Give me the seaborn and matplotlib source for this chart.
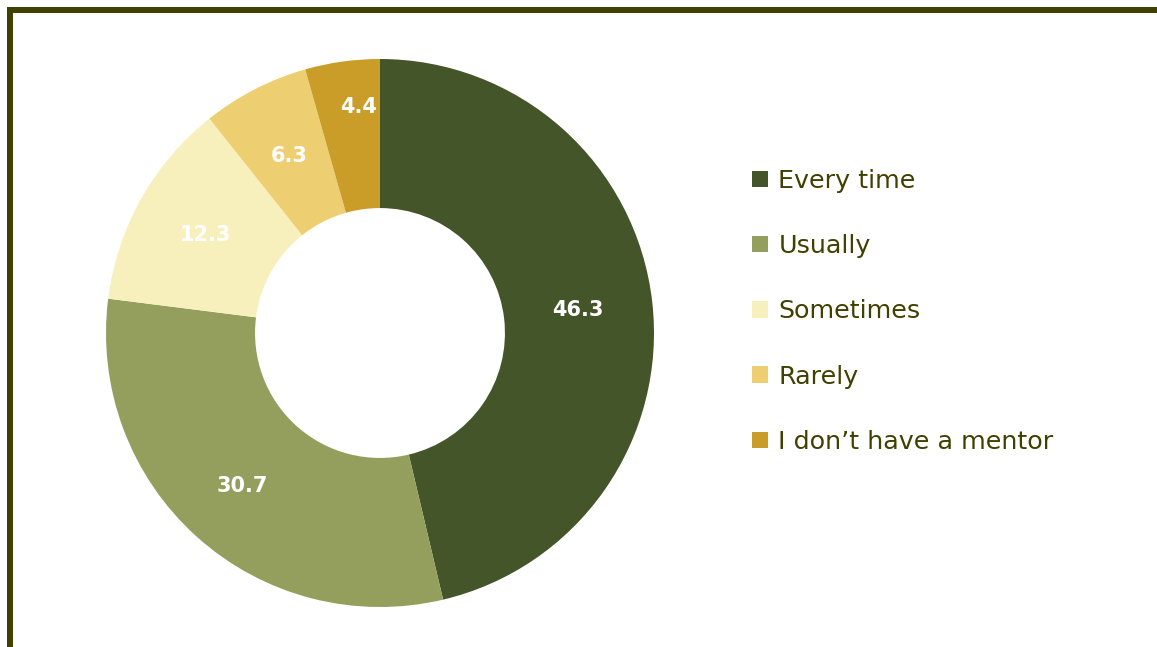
import matplotlib
matplotlib.use("Agg")
import matplotlib.pyplot as plt
from matplotlib.patches import Patch, Rectangle
import numpy as np
import seaborn as sns

# Share of respondents (%) by how often they meet their mentor
categories = ["Every time", "Usually", "Sometimes", "Rarely", "I don\u2019t have a mentor"]
shares = [46.3, 30.7, 12.3, 6.3, 4.4]
slice_colors = ["#45552a", "#949f5e", "#f7f0bd", "#edcf72", "#c99d27"]
# value label placement: radius (fraction of outer radius) and angular nudge (deg)
label_radius = [0.728, 0.75, 0.73, 0.728, 0.83]
label_nudge = [0, 0, 0, 0, -2.4]

sns.set_theme(style="white")
plt.rcParams["font.family"] = ["DejaVu Sans"]

W, H, DPI = 1157, 647, 100
fig = plt.figure(figsize=(W / DPI, H / DPI), dpi=DPI)
fig.patch.set_facecolor("white")

palette = sns.color_palette(slice_colors)

# donut centred at (380, 333) px, outer radius 274 px
cx, cy, R, pad = 380, 333, 274, 280
ax = fig.add_axes([(cx - pad) / W, (H - cy - pad) / H, 2 * pad / W, 2 * pad / H])
wedges, _ = ax.pie(
    shares,
    colors=palette,
    startangle=90,
    counterclock=False,
    radius=1.0,
    wedgeprops=dict(width=0.544, edgecolor="none"),
)
for w, v, r, d in zip(wedges, shares, label_radius, label_nudge):
    ang = np.deg2rad((w.theta1 + w.theta2) / 2 + d)
    ax.text(r * np.cos(ang), r * np.sin(ang), f"{v}",
            ha="center", va="center", color="white",
            fontweight="bold", fontsize=15)
ax.set_xlim(-pad / R, pad / R)
ax.set_ylim(-pad / R, pad / R)
ax.set_aspect("equal")
ax.axis("off")

# legend on the right
handles = [Patch(facecolor=c, edgecolor="none") for c in palette]
leg = fig.legend(
    handles, categories,
    loc="upper left",
    bbox_to_anchor=(752 / W, (H - 169) / H),
    frameon=False,
    fontsize=18.3,
    handlelength=0.62, handleheight=0.62,
    handletextpad=0.42,
    labelspacing=1.62,
    borderpad=0, borderaxespad=0,
)
for txt in leg.get_texts():
    txt.set_color("#404000")

# dark olive frame along the top and left edges
fig.add_artist(Rectangle((10 / W, -1), 2, (H - 10) / H + 1,
                         transform=fig.transFigure, fill=False,
                         edgecolor="#404000", linewidth=6 * 72 / DPI))

fig.savefig("out.png", dpi=DPI)
